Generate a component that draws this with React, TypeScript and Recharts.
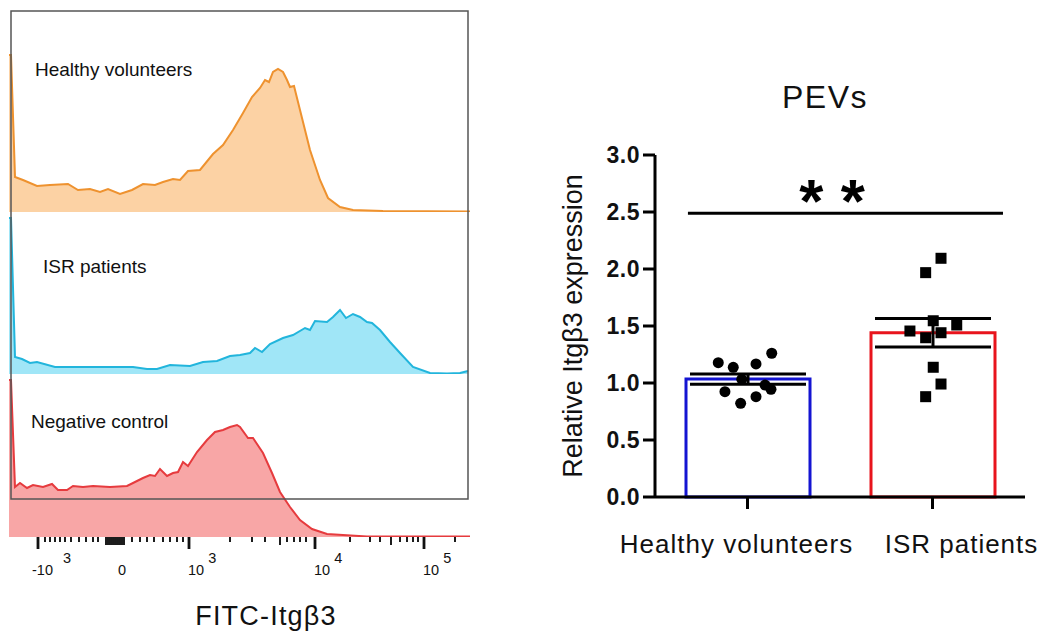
import React from 'react';
import {
  AreaChart,
  Area,
  XAxis,
  YAxis,
  ComposedChart,
  Bar,
  Cell,
  ErrorBar,
  Scatter,
  ReferenceLine,
  ReferenceDot,
} from 'recharts';

// ---------- Flow cytometry histograms (display channel vs. events) ----------
const HV_CHANNEL = [0, 2, 6, 14, 28, 41, 59, 69, 81, 91, 99, 111, 123, 134, 146, 154, 164, 171, 179, 191, 204, 214, 224, 234, 243, 251, 256, 260, 264, 269, 274, 278, 281, 285, 291, 301, 311, 319, 331, 344, 374, 461];
const HV_COUNTS = [157, 157, 35, 32, 26, 27, 28, 22, 23, 20, 23, 18, 22, 28, 27, 30, 33, 32, 41, 42, 58, 67, 82, 99, 115, 124, 132, 130, 140, 143, 140, 132, 125, 126, 102, 62, 32, 14, 5, 2, 1, 0.5];

const ISR_CHANNEL = [0, 2, 6, 13, 21, 28, 46, 74, 101, 124, 138, 148, 161, 181, 194, 208, 221, 231, 241, 246, 253, 261, 274, 284, 296, 301, 306, 318, 324, 331, 337, 344, 351, 358, 363, 371, 381, 391, 404, 421, 438, 451, 459];
const ISR_COUNTS = [156, 156, 17, 15, 11, 12, 7, 7, 7, 7, 5, 5, 9, 8, 12, 13, 18, 19, 21, 26, 22, 30, 36, 39, 46, 44, 53, 52, 57, 64, 56, 60, 57, 52, 51, 44, 32, 21, 7, 1, 0.5, 1, 3];

const NC_CHANNEL = [0, 2, 6, 11, 18, 24, 34, 43, 49, 58, 64, 74, 84, 101, 118, 124, 134, 141, 146, 151, 158, 164, 169, 174, 179, 188, 198, 206, 214, 221, 228, 231, 239, 244, 254, 263, 271, 281, 291, 303, 318, 334, 358, 461];
const NC_COUNTS = [157, 157, 50, 54, 49, 52, 50, 53, 47, 47, 51, 50, 51, 50, 51, 54, 59, 62, 61, 68, 61, 64, 65, 75, 71, 85, 97, 105, 107, 110, 112, 110, 99, 99, 84, 64, 45, 30, 17, 8, 3, 2, 0.5, 0.5];

// logicle axis ticks (display channels)
const LABEL_TICKS = [29, 113, 180, 306, 415];
const LABEL_BASE = ['-10', '0', '10', '10', '10'];
const LABEL_EXP = ['3', '', '3', '4', '5'];
const LONG_TICKS = [29, 180, 306, 415];
const MID_TICKS = [97, 99, 101, 103, 105, 107, 109, 111, 113, 115, 271, 382];
const MINOR_TICKS = [36, 41, 46, 51, 56, 62, 70, 77, 84, 89, 123, 131, 138, 145, 154, 161, 168, 174, 221, 243, 256, 278, 285, 291, 297, 341, 361, 371, 391, 398, 404, 409, 446];

// ---------- Bar chart ----------
const GROUPS = ['Healthy volunteers', 'ISR patients'];
const MEANS = [1.035, 1.44];
const SEMS = [0.045, 0.125];
const Y_TICKS = [0, 0.5, 1.0, 1.5, 2.0, 2.5, 3.0];

const HV_PTS_X = [0.342, 0.423, 0.546, 0.631, 0.469, 0.378, 0.463, 0.546, 0.595, 0.627];
const HV_PTS_Y = [1.178, 1.138, 1.167, 1.261, 1.032, 0.924, 0.822, 0.880, 0.982, 0.945];
const ISR_PTS_X = [1.546, 1.463, 1.504, 1.378, 1.463, 1.546, 1.631, 1.504, 1.546, 1.463];
const ISR_PTS_Y = [2.094, 1.968, 1.546, 1.456, 1.397, 1.441, 1.509, 1.138, 0.991, 0.880];

const SIG_Y = 2.49;
const SIG_X = [0.178, 1.881];
const SIG_LABEL_X = 0.957;

const FONT = '"Liberation Sans", Arial, Helvetica, sans-serif';

const toSeries = (ch: number[], ct: number[]) => ch.map((c, i) => ({ ch: c, count: ct[i] }));
const hvHist = toSeries(HV_CHANNEL, HV_COUNTS);
const isrHist = toSeries(ISR_CHANNEL, ISR_COUNTS);
const ncHist = toSeries(NC_CHANNEL, NC_COUNTS);
const ALL_TICKS = [...LABEL_TICKS, ...MID_TICKS, ...MINOR_TICKS]
  .filter((v, i, a) => a.indexOf(v) === i)
  .sort((a, b) => a - b);

const barData = GROUPS.map((g, i) => ({ group: g, mean: MEANS[i], sem: SEMS[i] }));
const hvPts = HV_PTS_X.map((x, i) => ({ x, y: HV_PTS_Y[i] }));
const isrPts = ISR_PTS_X.map((x, i) => ({ x, y: ISR_PTS_Y[i] }));

const FlowTick = (props: any) => {
  const { x, y, payload } = props;
  const v = payload.value;
  const ay = y - 8;
  const li = LABEL_TICKS.indexOf(v);
  const isLong = LONG_TICKS.includes(v);
  const isMid = MID_TICKS.includes(v);
  const len = isLong ? 12 : isMid ? 8 : 5;
  const sw = isLong ? 2.8 : 1.9;
  let label = null;
  if (li >= 0) {
    const base = LABEL_BASE[li];
    const exp = LABEL_EXP[li];
    if (!exp) {
      label = (
        <text x={x} y={ay + 38} textAnchor="middle" fontSize={14.5} fontFamily={FONT} fill="#111">
          {base}
        </text>
      );
    } else {
      const neg = base.startsWith('-');
      label = (
        <text x={neg ? x - 6 : x - 1} y={ay + 38} textAnchor="start" fontSize={14.5} fontFamily={FONT} fill="#111">
          {base}
          <tspan dx={neg ? 10 : 4} dy={-12}>{exp}</tspan>
        </text>
      );
    }
  }
  return (
    <g>
      <line x1={x} x2={x} y1={ay} y2={ay + len} stroke="#111" strokeWidth={sw} />
      {label}
    </g>
  );
};

const CAT_SHIFT = [-11, 29];
const CatTick = (props: any) => {
  const { x, y, payload, index } = props;
  return (
    <text
      x={x + (CAT_SHIFT[index] ?? 0)}
      y={y + 42}
      textAnchor="middle"
      fontSize={26}
      letterSpacing={1}
      fontFamily={FONT}
      fill="#111"
    >
      {payload.value}
    </text>
  );
};

const Hist = ({ data, top, plotH, axisH, stroke, fill }: any) => (
  <div style={{ position: 'absolute', left: 9, top }}>
    <AreaChart width={461} height={plotH + axisH} data={data} margin={{ top: 0, right: 0, bottom: 0, left: 0 }}>
      <XAxis
        type="number"
        dataKey="ch"
        domain={[0, 461]}
        allowDataOverflow
        hide={axisH === 0}
        height={axisH || undefined}
        ticks={ALL_TICKS}
        interval={0}
        axisLine={false}
        tickLine={false}
        tickSize={6}
        tickMargin={2}
        tick={<FlowTick />}
      />
      <YAxis type="number" domain={[0, plotH]} allowDataOverflow hide />
      <Area
        type="linear"
        dataKey="count"
        stroke={stroke}
        strokeWidth={2}
        fill={fill}
        fillOpacity={1}
        dot={false}
        activeDot={false}
        isAnimationActive={false}
      />
    </AreaChart>
  </div>
);

const circleShape = (p: any) => <circle cx={p.cx} cy={p.cy} r={5.5} fill="#000" />;
const squareShape = (p: any) => <rect x={p.cx - 5.5} y={p.cy - 5.5} width={11} height={11} fill="#000" />;
const sigShape = (p: any) => (
  <text x={p.cx} y={p.cy + 9} textAnchor="middle" fontSize={62} fontWeight="bold" fontFamily={FONT} fill="#000">
    * *
  </text>
);

export default function App() {
  return (
    <div style={{ position: 'absolute', left: 0, top: 0, width: 1045, height: 635, background: '#fff', overflow: 'hidden', fontFamily: FONT }}>
      <Hist data={hvHist} top={10} plotH={202} axisH={0} stroke="#EE922F" fill="#FCD2A4" />
      <Hist data={isrHist} top={212} plotH={162} axisH={0} stroke="#22B5DC" fill="#A0E6F7" />
      <Hist data={ncHist} top={375} plotH={162} axisH={98} stroke="#E63B3E" fill="#F8A6A6" />

      <div style={{ position: 'absolute', left: 489, top: 60 }}>
        <ComposedChart width={556} height={575} data={barData} margin={{ top: 95, right: 20, bottom: 78, left: 0 }}>
          <XAxis
            xAxisId="cat"
            dataKey="group"
            type="category"
            height={60}
            interval={0}
            axisLine={{ stroke: '#000', strokeWidth: 3 }}
            tickLine={{ stroke: '#000', strokeWidth: 3 }}
            tickSize={12}
            tickMargin={2}
            tick={<CatTick />}
          />
          <XAxis xAxisId="num" dataKey="x" type="number" domain={[0, 2]} allowDataOverflow hide />
          <YAxis
            yAxisId="bar"
            type="number"
            domain={[0, 3]}
            ticks={Y_TICKS}
            interval={0}
            width={166}
            tickFormatter={(v: number) => v.toFixed(1)}
            axisLine={{ stroke: '#000', strokeWidth: 3 }}
            tickLine={{ stroke: '#000', strokeWidth: 3 }}
            tickSize={12}
            tickMargin={3}
            tick={{ fill: '#111', fontSize: 23, fontWeight: 'bold', fontFamily: FONT, letterSpacing: 0.5 }}
            label={{
              value: 'Relative Itgβ3 expression',
              angle: -90,
              position: 'center',
              fontSize: 27,
              fill: '#111',
              fontFamily: FONT,
            }}
          />
          <YAxis yAxisId="pts" dataKey="y" type="number" domain={[0, 3]} allowDataOverflow hide />
          <Bar xAxisId="cat" yAxisId="bar" dataKey="mean" barSize={124} fill="#fff" strokeWidth={3} isAnimationActive={false}>
            <Cell stroke="#1414D2" />
            <Cell stroke="#E8141C" />
            <ErrorBar dataKey="sem" width={58} stroke="#000" strokeWidth={3} direction="y" />
          </Bar>
          <Scatter xAxisId="num" yAxisId="pts" data={hvPts} dataKey="y" shape={circleShape} isAnimationActive={false} />
          <Scatter xAxisId="num" yAxisId="pts" data={isrPts} dataKey="y" shape={squareShape} isAnimationActive={false} />
          <ReferenceLine
            xAxisId="num"
            yAxisId="pts"
            segment={[
              { x: SIG_X[0], y: SIG_Y },
              { x: SIG_X[1], y: SIG_Y },
            ]}
            stroke="#000"
            strokeWidth={3}
          />
          <ReferenceDot xAxisId="num" yAxisId="pts" x={SIG_LABEL_X} y={SIG_Y} r={0} shape={sigShape} />
        </ComposedChart>
      </div>

      <svg width={1045} height={635} style={{ position: 'absolute', left: 0, top: 0, pointerEvents: 'none' }}>
        <rect x={11} y={11} width={457} height={488} fill="none" stroke="#555" strokeWidth={1.5} />
        <text x={35} y={76} fontSize={19} fontFamily={FONT} fill="#111">Healthy volunteers</text>
        <text x={43} y={273} fontSize={19} fontFamily={FONT} fill="#111">ISR patients</text>
        <text x={31} y={428} fontSize={19} fontFamily={FONT} fill="#111">Negative control</text>
        <text x={266} y={625} textAnchor="middle" fontSize={27} letterSpacing={1.2} fontFamily={FONT} fill="#111">FITC-Itgβ3</text>
        <text x={825} y={108} textAnchor="middle" fontSize={32} letterSpacing={1.5} fontFamily={FONT} fill="#111">PEVs</text>
      </svg>
    </div>
  );
}
